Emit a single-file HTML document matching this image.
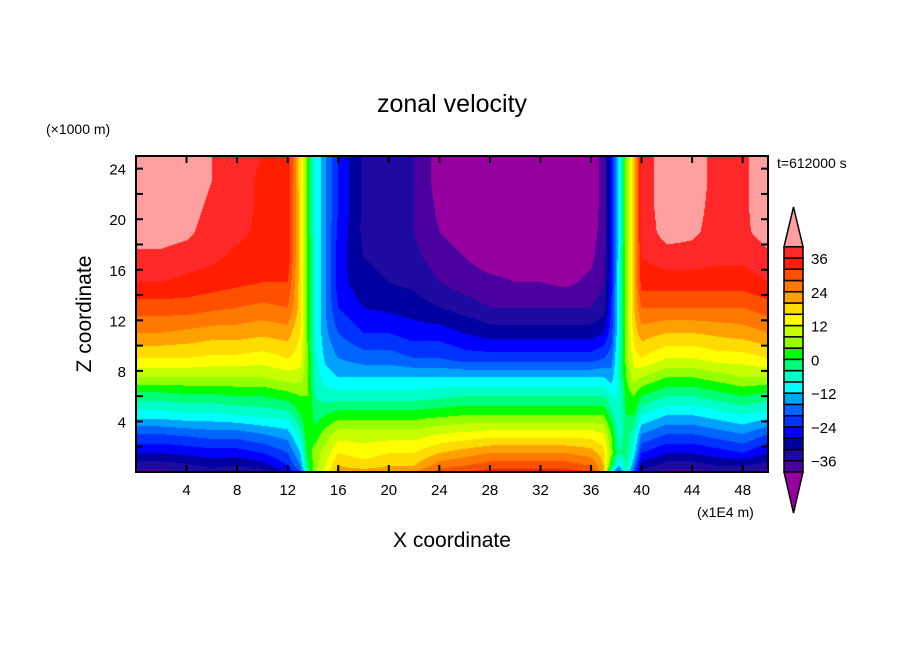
<!DOCTYPE html>
<html><head><meta charset="utf-8">
<style>
html,body{margin:0;padding:0;background:#fff;}
#wrap{position:relative;width:904px;height:654px;overflow:hidden;font-family:"Liberation Sans",sans-serif;}
svg text{font-family:"Liberation Sans",sans-serif;}
canvas{position:absolute;left:136px;top:156px;}
</style></head>
<body>
<div id="wrap">
<canvas id="field" width="632" height="316"></canvas>
<svg id="ov" width="904" height="654" style="position:absolute;left:0;top:0"></svg>
</div>
<script>
// ---- data ----
const xCoords = [0,2,4,6,8,10,12,13,13.6,14.2,15,16,18,20,22,24,26,28,30,32,34,36,37,37.6,38.2,38.8,39.4,40,42,44,46,48,50];
const zCoords = [0,0.5,1.5,3,4.5,6,7.5,9,11,13,15,17,19,21,23,25];
// each column: values at zCoords (m/s)
const columnValues = [
 [-38,-34,-28,-20,-10,-2,8,16,24,30,36,39,42,43,43,43],   // x=0
 [-38,-34,-28,-20,-10,-2,8,16,24,30,36,39,42,43,43,43],   // 2
 [-36,-33,-27,-19,-9,-1,8,16,23,30,35,38,41,42,43,43],    // 4
 [-34,-31,-26,-18,-9,-1,8,15,22,29,34,37,38,39,40,40],    // 6
 [-36,-32,-26,-18,-8,0,8,15,22,28,33,35,37,38,38,38],     // 8
 [-34,-30,-24,-16,-7,0,8,14,21,27,32,34,35,35,35,36],     // 10
 [-28,-24,-20,-14,-6,2,10,16,22,28,32,35,36,36,36,36],    // 12
 [-20,-16,-12,-6,0,4,10,14,16,18,18,18,18,18,17,17],      // 13
 [-4,0,2,4,4,4,4,4,3,3,3,3,2,2,2,2],                      // 13.6
 [8,6,6,2,-2,-4,-6,-7,-8,-8,-8,-8,-8,-8,-8,-8],           // 14.2
 [14,12,10,6,0,-6,-10,-13,-15,-16,-16,-16,-16,-16,-16,-16], // 15
 [22,20,16,10,2,-6,-12,-16,-20,-24,-26,-26,-25,-24,-24,-24], // 16
 [22,18,14,10,2,-6,-12,-18,-24,-28,-31,-32,-33,-33,-33,-33], // 18
 [22,20,16,10,2,-6,-12,-18,-24,-29,-32,-33,-34,-34,-34,-34], // 20
 [24,20,16,10,2,-6,-12,-20,-26,-30,-33,-35,-36,-36,-36,-36], // 22
 [30,26,20,12,3,-5,-12,-20,-26,-32,-36,-38,-40,-41,-42,-42], // 24
 [32,28,22,13,4,-4,-12,-22,-28,-34,-38,-40,-42,-43,-44,-44], // 26
 [34,30,24,14,4,-4,-12,-22,-30,-36,-39,-42,-43,-44,-44,-44], // 28
 [34,30,24,14,4,-4,-12,-22,-30,-36,-40,-42,-43,-44,-44,-44], // 30
 [34,30,24,14,4,-4,-12,-22,-30,-36,-40,-42,-43,-44,-44,-44], // 32
 [34,30,24,14,4,-4,-12,-22,-30,-36,-41,-42,-43,-44,-44,-44], // 34
 [32,28,22,14,4,-4,-12,-22,-30,-36,-39,-41,-42,-43,-43,-43], // 36
 [20,20,18,12,4,-4,-12,-20,-28,-34,-36,-37,-38,-38,-38,-38], // 37
 [-10,0,6,4,-2,-8,-14,-18,-22,-24,-25,-26,-26,-26,-26,-26], // 37.6
 [-20,-12,-4,-6,-8,-8,-6,-6,-8,-8,-9,-9,-10,-10,-10,-10],   // 38.2
 [-6,-4,-2,-2,0,2,4,6,6,6,6,6,6,6,6,6],                     // 38.8
 [-20,-16,-10,-6,0,4,10,14,18,20,20,20,20,20,20,20],        // 39.4
 [-34,-30,-24,-16,-8,0,8,16,22,28,34,36,37,37,37,37],       // 40
 [-38,-34,-28,-20,-12,-4,4,12,20,28,34,38,42,43,43,43],     // 42
 [-38,-34,-28,-20,-12,-4,4,12,20,28,34,38,41,42,43,43],     // 44
 [-36,-32,-26,-18,-10,-2,6,14,21,28,34,37,38,38,38,38],     // 46
 [-36,-32,-24,-16,-8,0,8,14,22,28,34,37,39,39,39,39],       // 48
 [-38,-34,-28,-20,-10,-2,8,16,24,30,36,39,42,43,43,43]      // 50
];
const levelColors = ['#4b00a0','#1e0aa0','#0000a0','#0000ff','#0032ff','#0064ff','#00a0ff','#00ffff','#00ffc8','#00ff78',
 '#00ff00','#96ff00','#c8ff00','#ffff00','#ffdc00','#ffa000','#ff7800','#ff5000','#ff1e00','#ff2828'];
const belowColor = '#9600a0', aboveColor = '#ffa0a0';
const levelMin = -40, levelStep = 4;
const xTicks = [4,8,12,16,20,24,28,32,36,40,44,48];
const zTicks = [4,8,12,16,20,24];
const cbLabels = [36,24,12,0,-12,-24,-36];

// ---- axes ----
const PX0=136, PX1=768, PY0=156, PY1=472, XMAX=50, ZMAX=25;
const xs = v => PX0 + v/XMAX*(PX1-PX0);
const zs = v => PY1 - v/ZMAX*(PY1-PY0);
const CB_TOP=246.7, CB_BOT=472, CBX=784, CBW=19;
const cs = v => CB_BOT - (v-levelMin)/(levelStep*levelColors.length)*(CB_BOT-CB_TOP);

function colorFor(v){
  if(v<levelMin) return belowColor;
  const i=Math.floor((v-levelMin)/levelStep);
  if(i>=levelColors.length) return aboveColor;
  return levelColors[i];
}
function seg(arr,v){ let i=0; while(i<arr.length-2 && v>arr[i+1]) i++; return i; }
function sample(x,z){
  const i=seg(xCoords,x), j=seg(zCoords,z);
  const tx=Math.min(1,Math.max(0,(x-xCoords[i])/(xCoords[i+1]-xCoords[i])));
  const tz=Math.min(1,Math.max(0,(z-zCoords[j])/(zCoords[j+1]-zCoords[j])));
  const a=columnValues[i][j], b=columnValues[i+1][j], c=columnValues[i][j+1], d=columnValues[i+1][j+1];
  return (a*(1-tx)+b*tx)*(1-tz)+(c*(1-tx)+d*tx)*tz;
}
const cv=document.getElementById('field'), ctx=cv.getContext('2d');
const W=cv.width,H=cv.height;
for(let py=0;py<H;py++){
  const z=(H-py-0.5)/H*ZMAX;
  let runC=null, runS=0;
  for(let px=0;px<=W;px++){
    const c = px<W ? colorFor(sample((px+0.5)/W*XMAX,z)) : null;
    if(c!==runC){ if(runC){ctx.fillStyle=runC;ctx.fillRect(runS,py,px-runS,1);} runC=c; runS=px; }
  }
}

// ---- svg overlay ----
const NS='http://www.w3.org/2000/svg', svg=document.getElementById('ov');
function mk(tag,attrs,txt){const e=document.createElementNS(NS,tag);for(const k in attrs)e.setAttribute(k,attrs[k]);if(txt!==undefined)e.textContent=txt;svg.appendChild(e);return e;}

let e=mk('rect',{x:PX0,y:PY0,width:PX1-PX0,height:PY1-PY0,fill:'none',stroke:'#000','stroke-width':2});



xTicks.forEach(v=>{
  const x=xs(v);
  let t=mk('line',{x1:x,y1:PY1,x2:x,y2:PY1-7,stroke:'#000','stroke-width':2});
  
  
  t=mk('line',{x1:x,y1:PY0,x2:x,y2:PY0+7,stroke:'#000','stroke-width':2});
  
  
  const l=mk('text',{x:x,y:PY1+23,'text-anchor':'middle','font-size':15},String(v));
  
  
});
for(let v=2;v<ZMAX;v+=2){
  const y=zs(v);
  let t=mk('line',{x1:PX0,y1:y,x2:PX0+7,y2:y,stroke:'#000','stroke-width':2});
  
  
  t=mk('line',{x1:PX1,y1:y,x2:PX1-7,y2:y,stroke:'#000','stroke-width':2});
  
  
}
zTicks.forEach(v=>{
  const l=mk('text',{x:PX0-10,y:zs(v)+6,'text-anchor':'end','font-size':15},String(v));
  
  
});

// colorbar
levelColors.forEach((c,i)=>{
  const v0=levelMin+i*levelStep, y1=cs(v0), y0=cs(v0+levelStep);
  const r=mk('rect',{x:CBX,y:y0,width:CBW,height:y1-y0,fill:c,stroke:'#000','stroke-width':1.5});
  
  
});
e=mk('polygon',{points:`${CBX},${CB_TOP} ${CBX+CBW},${CB_TOP} ${CBX+CBW/2},207`,fill:aboveColor,stroke:'#000','stroke-width':1.5});


e=mk('polygon',{points:`${CBX},${CB_BOT} ${CBX+CBW},${CB_BOT} ${CBX+CBW/2},513`,fill:belowColor,stroke:'#000','stroke-width':1.5});


cbLabels.forEach(v=>{
  const l=mk('text',{x:811,y:cs(v)+6,'font-size':15},v<0?'\u2212'+Math.abs(v):String(v));
  
  
});

e=mk('text',{x:452,y:112,'text-anchor':'middle','font-size':25},'zonal velocity');


e=mk('text',{x:46,y:134,'font-size':14},'(\u00d71000 m)');


e=mk('text',{x:0,y:0,'text-anchor':'middle','font-size':21,transform:'translate(91,314) rotate(-90)'},'Z coordinate');


e=mk('text',{x:452,y:547,'text-anchor':'middle','font-size':21},'X coordinate');


e=mk('text',{x:697,y:517,'font-size':14},'(x1E4 m)');


e=mk('text',{x:777,y:168,'font-size':14},'t=612000 s');


</script>
</body></html>
